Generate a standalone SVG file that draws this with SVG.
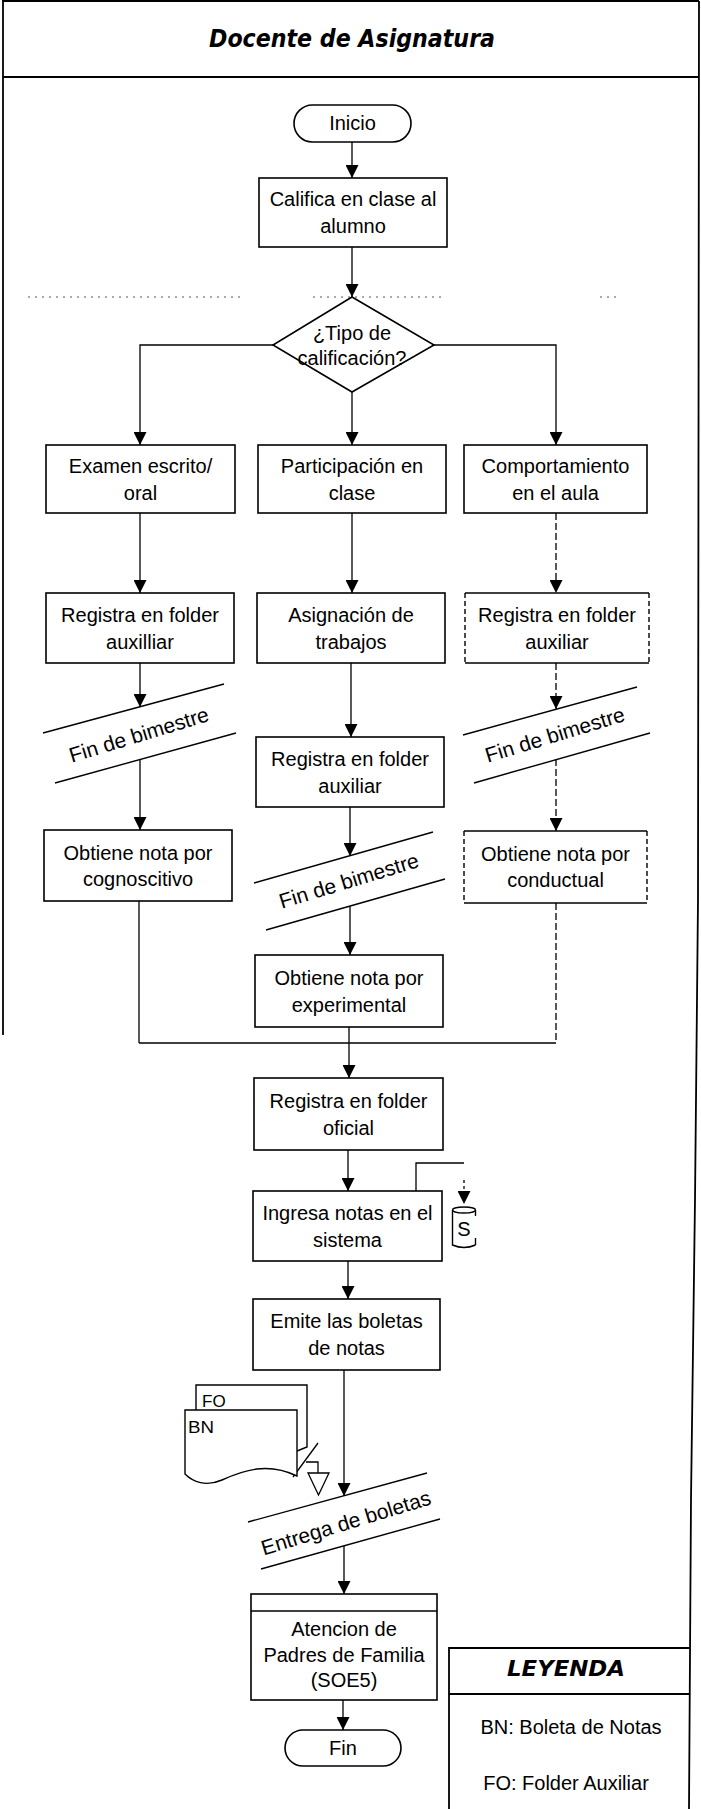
<svg xmlns="http://www.w3.org/2000/svg" width="701" height="1809" viewBox="0 0 701 1809">
  <defs>
    <marker id="ah" markerUnits="userSpaceOnUse" markerWidth="13" markerHeight="13" viewBox="0 0 13 13" refX="13" refY="6.5" orient="auto">
      <path d="M0,0 L13,6.5 L0,13 z" fill="#000"/>
    </marker>
    <style>
      .frame { fill: none; stroke: #000; stroke-width: 1.8; }
      .box { fill: #fff; stroke: #000; stroke-width: 1.6; }
      .edge { fill: none; stroke: #000; stroke-width: 1.6; }
      .dash { fill: none; stroke: #000; stroke-width: 1.4; stroke-dasharray: 5 3; }
      .c { fill: none; stroke: #000; stroke-width: 1.3; }
      .cd { fill: none; stroke: #000; stroke-width: 1.3; stroke-dasharray: 7 3; }
      .arr { marker-end: url(#ah); }
      .band { fill: none; stroke: #000; stroke-width: 1.4; }
      .t { font-family: "Liberation Sans", Arial, sans-serif; font-size: 20px; fill: #000; text-anchor: middle; }
      .bt { font-family: "Liberation Sans", Arial, sans-serif; font-size: 21px; fill: #000; text-anchor: middle; }
      .s { font-family: "Liberation Sans", Arial, sans-serif; font-size: 17px; fill: #000; }
      .h { font-family: "DejaVu Sans", "Liberation Sans", sans-serif; font-weight: bold; font-style: oblique; fill: #000; text-anchor: middle; }
    </style>
  </defs>

  <rect width="701" height="1809" fill="#fff"/>

  <!-- lane frame -->
  <g id="frame">
    <line class="frame" x1="2" y1="1" x2="699" y2="1"/>
    <line class="frame" x1="3" y1="1" x2="3" y2="1035"/>
    <polyline class="frame" points="699,1 698,900 695,1200 691,1500 689,1809"/>
    <line class="frame" x1="3" y1="77" x2="699" y2="77"/>
    <text class="h" x="352" y="47" font-size="25" textLength="286" lengthAdjust="spacingAndGlyphs">Docente de Asignatura</text>
    <g stroke="#555" stroke-width="1" stroke-dasharray="2 5">
      <line x1="28" y1="297" x2="242" y2="297"/>
      <line x1="313" y1="297" x2="443" y2="297"/>
      <line x1="600" y1="297" x2="618" y2="297"/>
    </g>
  </g>

  <!-- connectors -->
  <g id="connectors">
    <line class="c arr" x1="352" y1="142" x2="352" y2="178"/>
    <line class="c arr" x1="352" y1="247" x2="352" y2="297"/>
    <polyline class="c arr" points="273,345 140,345 140,445"/>
    <line class="c arr" x1="352" y1="392" x2="352" y2="445"/>
    <polyline class="c arr" points="434,345 556,345 556,445"/>

    <!-- left column -->
    <line class="c arr" x1="140" y1="513" x2="140" y2="593"/>
    <line class="c arr" x1="140" y1="663" x2="140" y2="707"/>
    <line class="c arr" x1="140" y1="760" x2="140" y2="830"/>
    <line class="c" x1="139" y1="901" x2="139" y2="1043"/>

    <!-- middle column -->
    <line class="c arr" x1="352" y1="513" x2="352" y2="593"/>
    <line class="c arr" x1="351" y1="663" x2="351" y2="737"/>
    <line class="c arr" x1="350" y1="807" x2="350" y2="856"/>
    <line class="c arr" x1="350" y1="906" x2="350" y2="955"/>
    <line class="c" x1="349" y1="1027" x2="349" y2="1043"/>

    <!-- right column -->
    <line class="cd arr" x1="556" y1="513" x2="556" y2="593"/>
    <line class="cd arr" x1="556" y1="663" x2="556" y2="709"/>
    <line class="cd arr" x1="556" y1="759" x2="556" y2="831"/>
    <line class="cd" x1="556" y1="903" x2="556" y2="1043"/>

    <!-- merge -->
    <line class="c" x1="139" y1="1043" x2="556" y2="1043"/>
    <line class="c arr" x1="349" y1="1043" x2="349" y2="1078"/>
    <line class="c arr" x1="348" y1="1150" x2="348" y2="1191"/>
    <line class="c arr" x1="348" y1="1261" x2="348" y2="1299"/>
    <line class="c arr" x1="344" y1="1370" x2="344" y2="1496"/>
    <line class="c arr" x1="344" y1="1546" x2="344" y2="1594"/>
    <line class="c arr" x1="343" y1="1700" x2="343" y2="1730"/>

    <!-- to storage -->
    <polyline class="c" points="416,1191 416,1163 464,1163"/>
    <line class="c arr" x1="464" y1="1180" x2="464" y2="1204" stroke-dasharray="3 3"/>

    <!-- documents to archive -->
    <line class="c" x1="293" y1="1477" x2="318" y2="1443"/>
    <polyline class="c" points="306,1462 318,1462 318,1473"/>
  </g>

  <!-- nodes -->
  <g id="inicio">
    <rect class="box" x="294" y="105" width="117" height="37" rx="18.5"/>
    <text class="t" x="352.5" y="130">Inicio</text>
  </g>

  <g id="califica">
    <rect class="box" x="259" y="178" width="188" height="69"/>
    <text class="t" x="353" y="206">Califica en clase al</text>
    <text class="t" x="353" y="233">alumno</text>
  </g>

  <g id="tipo">
    <polygon class="box" points="352,297 434,345 352,392 273,345"/>
    <text class="t" x="352" y="340">¿Tipo de</text>
    <text class="t" x="352" y="365">calificación?</text>
  </g>

  <g id="examen">
    <rect class="box" x="46" y="445" width="189" height="68"/>
    <text class="t" x="140.5" y="473">Examen escrito/</text>
    <text class="t" x="140.5" y="500">oral</text>
  </g>

  <g id="participacion">
    <rect class="box" x="258" y="445" width="188" height="68"/>
    <text class="t" x="352" y="473">Participación en</text>
    <text class="t" x="352" y="500">clase</text>
  </g>

  <g id="comportamiento">
    <rect class="box" x="464" y="445" width="183" height="68"/>
    <text class="t" x="555.5" y="473">Comportamiento</text>
    <text class="t" x="555.5" y="500">en el aula</text>
  </g>

  <g id="registra-aux-1">
    <rect class="box" x="46" y="593" width="188" height="70"/>
    <text class="t" x="140" y="621.5">Registra en folder</text>
    <text class="t" x="140" y="648.5">auxilliar</text>
  </g>

  <g id="asignacion">
    <rect class="box" x="257" y="593" width="188" height="70"/>
    <text class="t" x="351" y="621.5">Asignación de</text>
    <text class="t" x="351" y="648.5">trabajos</text>
  </g>

  <g id="registra-aux-3">
    <rect x="465" y="593" width="184" height="70" fill="#fff"/>
    <line class="edge" x1="465" y1="593" x2="649" y2="593"/>
    <line class="edge" x1="465" y1="663" x2="649" y2="663"/>
    <line class="dash" x1="465" y1="593" x2="465" y2="663"/>
    <line class="dash" x1="649" y1="593" x2="649" y2="663"/>
    <text class="t" x="557" y="621.5">Registra en folder</text>
    <text class="t" x="557" y="648.5">auxiliar</text>
  </g>

  <g id="fin-bimestre-1">
    <line class="band" x1="43" y1="733" x2="224" y2="684"/>
    <line class="band" x1="55" y1="783" x2="236" y2="733"/>
    <text class="bt" transform="translate(139,735) rotate(-17)" x="0" y="7">Fin de bimestre</text>
  </g>

  <g id="registra-aux-2">
    <rect class="box" x="256" y="737" width="188" height="70"/>
    <text class="t" x="350" y="765.5">Registra en folder</text>
    <text class="t" x="350" y="792.5">auxiliar</text>
  </g>

  <g id="fin-bimestre-3">
    <line class="band" x1="463" y1="735" x2="637" y2="687"/>
    <line class="band" x1="474" y1="783" x2="650" y2="733"/>
    <text class="bt" transform="translate(555,735) rotate(-17)" x="0" y="7">Fin de bimestre</text>
  </g>

  <g id="cognoscitivo">
    <rect class="box" x="44" y="830" width="188" height="71"/>
    <text class="t" x="138" y="860">Obtiene nota por</text>
    <text class="t" x="138" y="886">cognoscitivo</text>
  </g>

  <g id="conductual">
    <rect x="464" y="831" width="183" height="72" fill="#fff"/>
    <line class="edge" x1="464" y1="831" x2="647" y2="831"/>
    <line class="edge" x1="464" y1="903" x2="647" y2="903"/>
    <line class="dash" x1="464" y1="831" x2="464" y2="903"/>
    <line class="dash" x1="647" y1="831" x2="647" y2="903"/>
    <text class="t" x="555.5" y="861">Obtiene nota por</text>
    <text class="t" x="555.5" y="887">conductual</text>
  </g>

  <g id="fin-bimestre-2">
    <line class="band" x1="254" y1="883" x2="433" y2="832"/>
    <line class="band" x1="266" y1="930" x2="445" y2="879"/>
    <text class="bt" transform="translate(349,881) rotate(-17)" x="0" y="7">Fin de bimestre</text>
  </g>

  <g id="experimental">
    <rect class="box" x="255" y="955" width="188" height="72"/>
    <text class="t" x="349" y="984.5">Obtiene nota por</text>
    <text class="t" x="349" y="1011.5">experimental</text>
  </g>

  <g id="folder-oficial">
    <rect class="box" x="254" y="1078" width="189" height="72"/>
    <text class="t" x="348.5" y="1107.5">Registra en folder</text>
    <text class="t" x="348.5" y="1134.5">oficial</text>
  </g>

  <g id="ingresa">
    <rect class="box" x="253" y="1191" width="189" height="70"/>
    <text class="t" x="347.5" y="1219.5">Ingresa notas en el</text>
    <text class="t" x="347.5" y="1246.5">sistema</text>
  </g>

  <g id="sistema">
    <ellipse cx="464" cy="1210" rx="11.5" ry="3" fill="#fff" stroke="#000" stroke-width="1.4"/>
    <path d="M452.5,1210 V1245 Q464,1250 475.5,1245" fill="none" stroke="#000" stroke-width="1.4"/>
    <line x1="475.5" y1="1210" x2="475.5" y2="1216" stroke="#000" stroke-width="1.4"/>
    <line x1="475.5" y1="1238" x2="475.5" y2="1245" stroke="#000" stroke-width="1.4"/>
    <text class="t" x="464" y="1236">S</text>
  </g>

  <g id="emite">
    <rect class="box" x="253" y="1299" width="187" height="71"/>
    <text class="t" x="346.5" y="1328">Emite las boletas</text>
    <text class="t" x="346.5" y="1355">de notas</text>
  </g>

  <g id="documentos">
    <path d="M196,1410 V1385 H307 V1447 L297,1451" fill="#fff" stroke="#000" stroke-width="1.4"/>
    <text class="s" x="202" y="1407">FO</text>
    <path d="M185,1410 H297 V1476 C268,1462 244,1470 222,1480 C206,1487 193,1482 185,1474 Z" fill="#fff" stroke="#000" stroke-width="1.4"/>
    <text class="s" x="188" y="1433" textLength="26" lengthAdjust="spacingAndGlyphs">BN</text>
  </g>

  <g id="archivo">
    <polygon points="308,1473 329,1473 318.5,1495" fill="#fff" stroke="#000" stroke-width="1.3"/>
  </g>

  <g id="entrega">
    <line class="band" x1="248" y1="1522" x2="427" y2="1473"/>
    <line class="band" x1="261" y1="1569" x2="440" y2="1519"/>
    <text class="bt" transform="translate(346,1523) rotate(-17)" x="0" y="7">Entrega de boletas</text>
  </g>

  <g id="atencion">
    <rect class="box" x="251" y="1594" width="186" height="106"/>
    <line class="edge" x1="251" y1="1611" x2="437" y2="1611"/>
    <text class="t" x="344" y="1636">Atencion de</text>
    <text class="t" x="344" y="1662">Padres de Familia</text>
    <text class="t" x="344" y="1687">(SOE5)</text>
  </g>

  <g id="fin">
    <rect class="box" x="285" y="1730" width="116" height="36" rx="18"/>
    <text class="t" x="343" y="1755">Fin</text>
  </g>

  <g id="leyenda">
    <polyline class="frame" points="449,1809 449,1648 690,1648"/>
    <line class="frame" x1="449" y1="1694" x2="690" y2="1694"/>
    <text class="h" x="566" y="1676" font-size="22" textLength="118" lengthAdjust="spacingAndGlyphs">LEYENDA</text>
    <text class="t" x="571" y="1734">BN: Boleta de Notas</text>
    <text class="t" x="566" y="1790">FO: Folder Auxiliar</text>
  </g>
</svg>
